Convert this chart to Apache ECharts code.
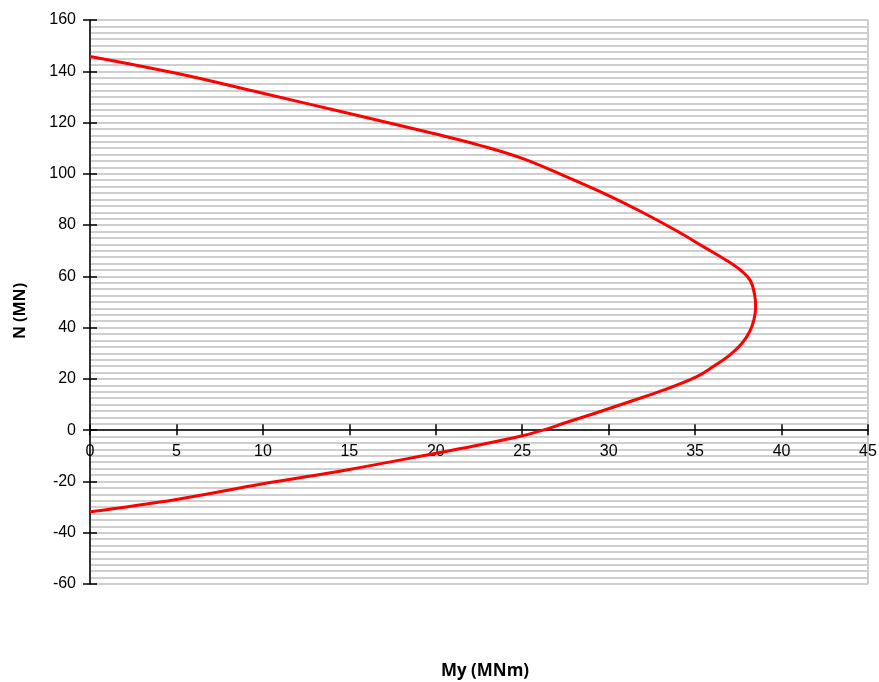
<!DOCTYPE html>
<html>
<head>
<meta charset="utf-8">
<script src="https://cdn.jsdelivr.net/npm/echarts@6/dist/echarts.min.js"></script>
<style>html,body{margin:0;padding:0;background:#fff}#c{width:879px;height:682px}</style>
</head>
<body>
<div id="c"></div>
<script>
// Interaction curve: My (MNm) vs N (MN)
const myValues = [0, 5, 10, 15, 20, 22.5, 25, 27.5, 30, 32, 34, 35.5, 36.8, 37.7, 38.2, 38.45, 38.5, 38.4, 38.15, 37.7, 37.0, 36.0, 35.1, 33.2, 31.2, 29.3, 27.4, 26.3, 25, 22.5, 20, 15, 10, 5, 0];
const nValues  = [145.8, 139.2, 131.4, 123.5, 115.5, 111.2, 106, 99, 91.5, 84.8, 77.5, 71.5, 66.3, 62, 58.3, 52.5, 48, 43, 38.4, 33.8, 29.3, 24.6, 20.9, 15.7, 11.1, 6.8, 2.7, 0.2, -2.2, -5.8, -9.0, -15.3, -20.9, -27.0, -31.8];
const xTicks = [0, 5, 10, 15, 20, 25, 30, 35, 40, 45];
const yTicks = [-60, -40, -20, 0, 20, 40, 60, 80, 100, 120, 140, 160];

const data = myValues.map((m, i) => [m, nValues[i]]);
const gridTop = 20, gridBottom = 98, H = 682;
const plotH = H - gridTop - gridBottom;
const yMin = yTicks[0], yMax = yTicks[yTicks.length - 1];
const zeroOffset = -((0 - yMin) / (yMax - yMin)) * plotH;

const chart = echarts.init(document.getElementById('c'));
const font = 'Liberation Sans, Arial, sans-serif';
const titleFont = 'Open Sans, Liberation Sans, sans-serif';
const xBase = { type: 'value', min: xTicks[0], max: xTicks[xTicks.length - 1], interval: 5, position: 'bottom', splitLine: { show: false } };
chart.setOption({
  animation: false,
  backgroundColor: '#fff',
  grid: { left: 90, top: gridTop, right: 11, bottom: gridBottom, show: true, borderColor: '#999', borderWidth: 1, containLabel: false, outerBoundsMode: 'none' },
  xAxis: [Object.assign({}, xBase, {
    offset: zeroOffset,
    axisLine: { onZero: false, lineStyle: { color: '#000', width: 1.5 } },
    axisTick: { show: true, length: 5, lineStyle: { color: '#000', width: 1.5 } },
    axisLabel: { margin: 13, fontFamily: font, fontSize: 16, color: '#000' }
  }), Object.assign({}, xBase, {
    offset: zeroOffset,
    axisLine: { show: false, onZero: false },
    axisTick: { show: true, inside: true, length: 6, lineStyle: { color: '#000', width: 1.5 } },
    axisLabel: { show: false }
  }), Object.assign({}, xBase, {
    name: 'My (MNm)', nameLocation: 'middle', nameGap: 79,
    nameTextStyle: { fontFamily: titleFont, fontWeight: 'bold', fontSize: 17, color: '#000', padding: [0, 0, 0, 12] },
    axisLine: { show: false, onZero: false }, axisTick: { show: false }, axisLabel: { show: false }
  })],
  yAxis: [{
    type: 'value', min: yMin, max: yMax, interval: 20,
    name: 'N (MN)', nameLocation: 'middle', nameGap: 62, nameRotate: 90,
    nameTextStyle: { fontFamily: titleFont, fontWeight: 'bold', fontSize: 16, color: '#000', padding: [0, 18, 0, 0] },
    axisLine: { show: true, onZero: false, lineStyle: { color: '#000', width: 1.5 } },
    axisTick: { show: true, length: 7, lineStyle: { color: '#000', width: 1.5 } },
    axisLabel: { margin: 14, fontFamily: font, fontSize: 16, color: '#000' },
    splitLine: { show: true, lineStyle: { color: '#cfcfcf', width: 2 } },
    minorTick: { show: false, splitNumber: 8 },
    minorSplitLine: { show: true, lineStyle: { color: '#cfcfcf', width: 2 } }
  }, {
    type: 'value', min: yMin, max: yMax, interval: 20, position: 'left',
    axisLine: { show: false },
    axisTick: { show: true, inside: true, length: 7, lineStyle: { color: '#000', width: 1.5 } },
    axisLabel: { show: false }, splitLine: { show: false }
  }],
  series: [{
    type: 'line', data: data, smooth: 0.4, showSymbol: false, symbol: 'none',
    xAxisIndex: 0, yAxisIndex: 0,
    lineStyle: { color: '#ff0000', width: 3 }, z: 5
  }]
});
</script>
</body>
</html>
